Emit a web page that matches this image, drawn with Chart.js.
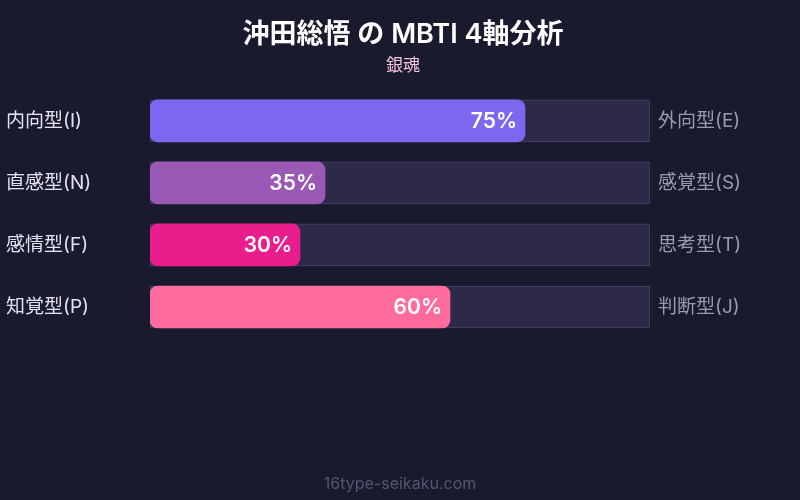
<!DOCTYPE html>
<html>
<head>
<meta charset="utf-8">
<script src="https://cdn.jsdelivr.net/npm/chart.js@4.4.0/dist/chart.umd.min.js"></script>
<style>
  html, body { margin:0; padding:0; background:#1a1a2e; }
  #wrap { width:800px; height:500px; }
</style>
</head>
<body>
<div id="wrap"><canvas id="mbtiChart" width="800" height="500"></canvas></div>
<script>
// ===== Data =====
const leftLabels  = ['内向型(I)', '直感型(N)', '感情型(F)', '知覚型(P)'];
const rightLabels = ['外向型(E)', '感覚型(S)', '思考型(T)', '判断型(J)'];
const scores      = [75, 35, 30, 60];
const trackValues = [100, 100, 100, 100];
const barColors   = ['#7b68ee', '#9b59b6', '#e91e8c', '#ff6b9d'];

const FONT = "Inter, 'Noto Sans CJK JP', sans-serif";

// ===== percent labels inside bars + footer =====
const valueLabels = {
    id:'valueLabels',
    afterDatasetsDraw(chart){
        const ctx = chart.ctx;
        const meta = chart.getDatasetMeta(0);
        ctx.save();
        ctx.font = '600 21px ' + FONT;
        ctx.fillStyle = '#ffffff';
        ctx.textAlign = 'right';
        ctx.textBaseline = 'middle';
        meta.data.forEach(function(bar, i){
            ctx.fillText(scores[i] + '%', bar.x - 8, bar.y + 1);
        });
        ctx.font = '16px ' + FONT;
        ctx.fillStyle = '#555572';
        ctx.textAlign = 'center';
        ctx.fillText('16type-seikaku.com', chart.width / 2, 484);
        ctx.restore();
    }
};

new Chart(document.getElementById('mbtiChart').getContext('2d'), {
    type:'bar',
    data:{
        labels: leftLabels,
        datasets:[
            { label:'score', data: scores, backgroundColor: barColors, borderRadius: 8,
              borderSkipped: false, barThickness: 42, grouped: false },
            { label:'track', data: trackValues, backgroundColor:'#2c2a48', borderColor:'#44446a',
              borderWidth: 1, borderSkipped: false, barThickness: 42, grouped: false }
        ]
    },
    options:{
        responsive:false,
        animation:false,
        indexAxis:'y',
        layout:{ padding:{ top:0, left:6, right:0, bottom:162 } },
        plugins:{
            legend:{ display:false },
            tooltip:{ enabled:false },
            title:{ display:true, text:'沖田総悟 の MBTI 4軸分析', color:'#ffffff',
                    font:{ family:FONT, size:27, weight:'600' }, padding:{ top:19, bottom:4 } },
            subtitle:{ display:true, text:'銀魂', color:'#f5c6dc',
                       font:{ family:FONT, size:17 }, padding:{ top:0, bottom:14 } }
        },
        scales:{
            x:{ display:false, min:0, max:100 },
            y:{ position:'left', grid:{ display:false, drawTicks:false }, border:{ display:false },
                ticks:{ crossAlign:'far', color:'#e4e4f0', font:{ family:FONT, size:19 }, padding:0 },
                afterFit: function(s){ s.width = 144; } },
            y2:{ type:'category', position:'right', labels: rightLabels, offset:true,
                 grid:{ display:false, drawTicks:false }, border:{ display:false },
                 ticks:{ color:'#9a9ab2', font:{ family:FONT, size:19 }, padding:8 },
                 afterFit: function(s){ s.width = 150; } }
        }
    },
    plugins:[valueLabels]
});
</script>
</body>
</html>
